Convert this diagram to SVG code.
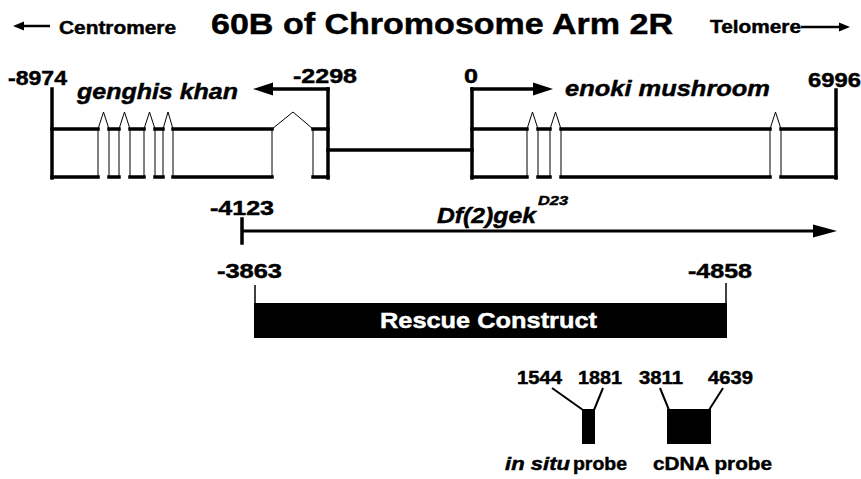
<svg xmlns="http://www.w3.org/2000/svg" width="861" height="479" viewBox="0 0 861 479">
<style>
text{font-family:"Liberation Sans",Arial,Helvetica,sans-serif;font-weight:bold;fill:#000;stroke:#000;stroke-width:0.45}
.it{font-style:italic}
.wt{fill:#fff;stroke:#fff}
.thick{stroke:#000;stroke-width:3.5;fill:none;stroke-linecap:square}
.thin{stroke:#000;stroke-width:1;fill:#fff}
.chev{stroke:#000;stroke-width:1;fill:none}
.med{stroke:#000;stroke-width:2.5;fill:none}
.probe{stroke:#000;stroke-width:2;fill:none}
</style>
<rect width="861" height="479" fill="#fff"/>

<g id="title">
<text x="211" y="34" font-size="29" textLength="462" lengthAdjust="spacingAndGlyphs">60B of Chromosome Arm 2R</text>
</g>
<g id="centromere">
<line class="med" x1="20" y1="26" x2="50" y2="26"/>
<polygon points="13,26 24,21.5 24,30.5" fill="#000"/>
<text x="59" y="34" font-size="18.5" textLength="117" lengthAdjust="spacingAndGlyphs">Centromere</text>
</g>
<g id="telomere">
<text x="710" y="33" font-size="18.5" textLength="91" lengthAdjust="spacingAndGlyphs">Telomere</text>
<line class="med" x1="801" y1="27" x2="842" y2="27"/>
<polygon points="850,27 839,22.5 839,31.5" fill="#000"/>
</g>

<g id="genghis-khan">
<text x="8" y="85" font-size="20.5" textLength="59" lengthAdjust="spacingAndGlyphs">-8974</text>
<text x="293" y="83" font-size="20.5" textLength="64" lengthAdjust="spacingAndGlyphs">-2298</text>
<text class="it" x="77" y="99" font-size="22.5" textLength="161" lengthAdjust="spacingAndGlyphs">genghis khan</text>
<rect class="thin" x="52" y="129" width="46" height="48"/>
<rect class="thin" x="109" y="129" width="10" height="48"/>
<rect class="thin" x="130" y="129" width="14" height="48"/>
<rect class="thin" x="155" y="129" width="8" height="48"/>
<rect class="thin" x="173" y="129" width="99" height="48"/>
<rect class="thin" x="313" y="129" width="15" height="48"/>
<path class="thick" stroke-linecap="butt" d="M52,129H98M109,129H119M130,129H144M155,129H163M173,129H272M313,129H328M52,177H98M109,177H119M130,177H144M155,177H163M173,177H272M313,177H328"/>
<path class="chev" d="M98,129L103.5,112L109,129M119,129L124.5,112L130,129M144,129L149.5,112L155,129M163,129L168,112L173,129M272,129L293,112L313,129"/>
<line class="thick" x1="52" y1="89" x2="52" y2="178"/>
<line class="thick" x1="328" y1="89" x2="328" y2="178"/>
<line class="thick" x1="328" y1="89" x2="268" y2="89"/>
<polygon points="253,89 273,82.5 273,95.5" fill="#000"/>
</g>

<g id="enoki-mushroom">
<text x="464" y="83" font-size="20.5" textLength="14" lengthAdjust="spacingAndGlyphs">0</text>
<text x="808" y="87" font-size="20.5" textLength="53" lengthAdjust="spacingAndGlyphs">6996</text>
<text class="it" x="565" y="96" font-size="22.5" textLength="205" lengthAdjust="spacingAndGlyphs">enoki mushroom</text>
<rect class="thin" x="472" y="129" width="55" height="48"/>
<rect class="thin" x="538" y="129" width="12" height="48"/>
<rect class="thin" x="561" y="129" width="209" height="48"/>
<rect class="thin" x="781" y="129" width="55" height="48"/>
<path class="thick" stroke-linecap="butt" d="M472,129H527M538,129H550M561,129H770M781,129H836M472,177H527M538,177H550M561,177H770M781,177H836"/>
<path class="chev" d="M527,129L532.5,112L538,129M550,129L555.5,112L561,129M770,129L775.5,112L781,129"/>
<line class="thick" x1="472" y1="89" x2="472" y2="178"/>
<line class="thick" x1="836" y1="90" x2="836" y2="178"/>
<line class="thick" x1="472" y1="89" x2="537" y2="89"/>
<polygon points="553,89 533,82.5 533,95.5" fill="#000"/>
</g>

<g id="connectors">
<line class="thick" stroke-linecap="butt" x1="328" y1="150" x2="472" y2="150"/>
</g>

<g id="deficiency">
<text x="210" y="215" font-size="19.5" textLength="64" lengthAdjust="spacingAndGlyphs">-4123</text>
<text class="it" x="437" y="223" font-size="22.5" textLength="99" lengthAdjust="spacingAndGlyphs">Df(2)gek</text>
<text class="it" x="538" y="205" font-size="13" textLength="30" lengthAdjust="spacingAndGlyphs">D23</text>
<line class="thick" stroke-linecap="butt" x1="242" y1="219" x2="242" y2="243"/>
<line stroke="#000" stroke-width="3" x1="242" y1="231" x2="815" y2="231"/>
<polygon points="837,231 813,224.5 813,237.5" fill="#000"/>
</g>

<g id="rescue-construct">
<text x="217" y="278" font-size="19.5" textLength="65" lengthAdjust="spacingAndGlyphs">-3863</text>
<text x="688" y="278" font-size="19.5" textLength="64" lengthAdjust="spacingAndGlyphs">-4858</text>
<line stroke="#000" stroke-width="1.5" x1="255" y1="285" x2="255" y2="303"/>
<line stroke="#000" stroke-width="1.5" x1="726" y1="283" x2="726" y2="303"/>
<rect x="254" y="303" width="473" height="35" fill="#000"/>
<text class="wt" x="380" y="328" font-size="22.5" textLength="217" lengthAdjust="spacingAndGlyphs">Rescue Construct</text>
</g>

<g id="in-situ-probe">
<text x="517" y="384" font-size="17.5" textLength="45" lengthAdjust="spacingAndGlyphs">1544</text>
<text x="578" y="384" font-size="17.5" textLength="44" lengthAdjust="spacingAndGlyphs">1881</text>
<line class="probe" x1="552" y1="388" x2="583" y2="410"/>
<line class="probe" x1="603" y1="388" x2="594" y2="410"/>
<rect x="582" y="409" width="13" height="35" fill="#000"/>
<text class="it" x="505" y="470" font-size="18.5" textLength="65" lengthAdjust="spacingAndGlyphs">in situ</text>
<text x="573" y="470" font-size="18.5" textLength="54" lengthAdjust="spacingAndGlyphs">probe</text>
</g>

<g id="cdna-probe">
<text x="639" y="384" font-size="17.5" textLength="44" lengthAdjust="spacingAndGlyphs">3811</text>
<text x="708" y="384" font-size="17.5" textLength="45" lengthAdjust="spacingAndGlyphs">4639</text>
<line class="probe" x1="660" y1="388" x2="669" y2="410"/>
<line class="probe" x1="723" y1="388" x2="709" y2="410"/>
<rect x="667" y="409" width="44" height="35" fill="#000"/>
<text x="653" y="470" font-size="18.5" textLength="119" lengthAdjust="spacingAndGlyphs">cDNA probe</text>
</g>
</svg>
